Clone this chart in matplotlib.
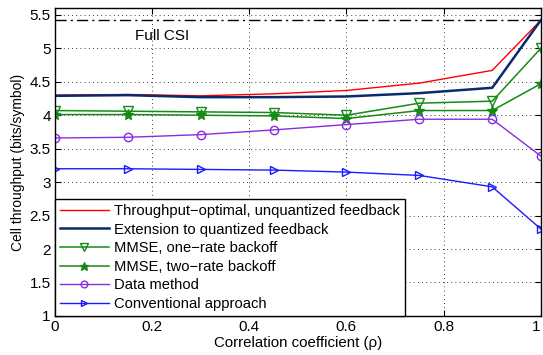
import matplotlib
matplotlib.use("Agg")
import matplotlib.pyplot as plt

plt.rcParams['font.family'] = ['Liberation Sans', 'DejaVu Sans']

rho = [0, 0.15, 0.3, 0.45, 0.6, 0.75, 0.9, 1.0]
full_csi = 5.42
thr_opt = [4.30, 4.31, 4.29, 4.32, 4.37, 4.48, 4.67, 5.42]
ext_quant = [4.29, 4.30, 4.27, 4.27, 4.28, 4.33, 4.41, 5.42]
mmse_one = [4.07, 4.06, 4.05, 4.04, 4.00, 4.18, 4.21, 5.00]
mmse_two = [4.01, 4.01, 4.00, 3.99, 3.95, 4.07, 4.07, 4.47]
data_method = [3.66, 3.67, 3.71, 3.78, 3.86, 3.94, 3.94, 3.39]
conventional = [3.20, 3.20, 3.19, 3.18, 3.15, 3.10, 2.93, 2.30]

labels = ['Throughput\u2212optimal, unquantized feedback',
          'Extension to quantized feedback',
          'MMSE, one\u2212rate backoff',
          'MMSE, two\u2212rate backoff',
          'Data method',
          'Conventional approach']

fig = plt.figure(figsize=(5.43, 3.55), dpi=100)
ax = fig.add_axes([0.101, 0.110, 0.895, 0.867])

ax.plot([0, 1], [full_csi, full_csi], color='black', linestyle=(0, (8, 3, 1.5, 3)), linewidth=1.0)
ax.text(0.165, 5.19, 'Full CSI', fontsize=11, va='center')

ax.plot(rho, thr_opt, color='red', linewidth=1.0, label=labels[0])
ax.plot(rho, ext_quant, color='#0b2a6b', linewidth=1.8, label=labels[1])
ax.plot(rho, mmse_one, color='#168a16', linewidth=1.1, marker='v', markersize=7,
        markerfacecolor='none', markeredgewidth=1.0, label=labels[2])
ax.plot(rho, mmse_two, color='#168a16', linewidth=1.1, marker='*', markersize=8,
        label=labels[3])
ax.plot(rho, data_method, color='#8a2be2', linewidth=1.0, marker='o', markersize=6,
        markerfacecolor='none', markeredgewidth=1.0, label=labels[4])
ax.plot(rho, conventional, color='#1a1aff', linewidth=1.0, marker='>', markersize=6,
        markerfacecolor='none', markeredgewidth=1.0, label=labels[5])

ax.set_xlim(0, 1)
ax.set_ylim(1, 5.6)
ax.set_xticks([0, 0.2, 0.4, 0.6, 0.8, 1])
ax.set_xticklabels(['0', '0.2', '0.4', '0.6', '0.8', '1'])
ax.set_yticks([1, 1.5, 2, 2.5, 3, 3.5, 4, 4.5, 5, 5.5])
ax.set_yticklabels(['1', '1.5', '2', '2.5', '3', '3.5', '4', '4.5', '5', '5.5'])
ax.tick_params(direction='in', labelsize=11, top=True, right=True, length=4, pad=3)
ax.get_xticklabels()[-1].set_horizontalalignment('right')
ax.grid(True, color='black', linestyle=(0, (1, 4)), linewidth=0.6)
for s in ax.spines.values():
    s.set_linewidth(1.0)

ax.set_xlabel('Correlation coefficient (\u03c1)', fontsize=10.8, labelpad=1)
ax.set_ylabel('Cell throughput (bits/symbol)', fontsize=10, labelpad=3)

leg = ax.legend(loc='lower left', fontsize=10.6, frameon=True, fancybox=False,
                edgecolor='black', framealpha=1, borderaxespad=0, handlelength=3.3,
                labelspacing=0.31, borderpad=0.35, handletextpad=0.4, markerscale=0.8)
leg.get_frame().set_linewidth(1.0)

fig.savefig('out.png', dpi=100)
